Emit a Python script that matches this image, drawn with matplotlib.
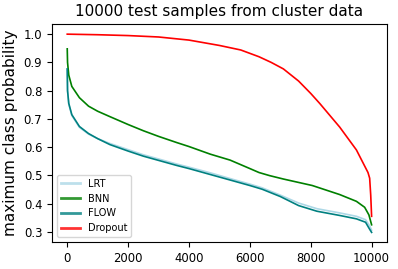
import matplotlib
matplotlib.use("Agg")
import matplotlib.pyplot as plt
import numpy as np

# sorted maximum class probability at sample indices
lrt_x = [0, 10, 50, 150, 400, 700, 1000, 1400, 2000, 2500, 3000, 3600, 4000, 4700,
         5500, 6000, 6400, 7000, 7600, 8200, 8950, 9500, 9800, 9930, 9999]
lrt_y = [0.875, 0.80, 0.752, 0.712, 0.670, 0.646, 0.630, 0.613, 0.591, 0.573, 0.558,
         0.540, 0.529, 0.509, 0.484, 0.469, 0.456, 0.430, 0.402, 0.382, 0.367, 0.355,
         0.343, 0.322, 0.306]

bnn_x = [0, 10, 50, 150, 400, 700, 1000, 1400, 2000, 2500, 3000, 3600, 4000, 4700, 5350,
         6000, 6300, 6650, 7100, 8050, 8950, 9500, 9770, 9910, 9999]
bnn_y = [0.948, 0.90, 0.855, 0.815, 0.775, 0.745, 0.727, 0.708, 0.680, 0.658, 0.638,
         0.616, 0.602, 0.575, 0.554, 0.524, 0.510, 0.499, 0.487, 0.464, 0.432, 0.408,
         0.387, 0.360, 0.325]

flow_x = [0, 10, 50, 150, 400, 700, 1000, 1400, 2000, 2500, 3000, 3600, 4000, 4700,
          5500, 6000, 6400, 7000, 7600, 8200, 8950, 9500, 9800, 9930, 9999]
flow_y = [0.877, 0.80, 0.755, 0.715, 0.673, 0.648, 0.630, 0.609, 0.586, 0.568, 0.553,
          0.535, 0.524, 0.503, 0.479, 0.464, 0.451, 0.425, 0.393, 0.373, 0.358, 0.346,
          0.334, 0.310, 0.298]

drop_x = [0, 1000, 2000, 3000, 4000, 5000, 5700, 6300, 6700, 7100, 7600, 8000, 8300,
          8950, 9500, 9880, 9935, 9970, 9999]
drop_y = [1.0, 0.998, 0.995, 0.99, 0.979, 0.96, 0.944, 0.92, 0.90, 0.877, 0.834, 0.79,
          0.754, 0.671, 0.590, 0.510, 0.490, 0.43, 0.355]

fig = plt.figure(figsize=(3.98, 2.69), dpi=100)
ax = fig.add_axes([0.1307, 0.1004, 0.8413, 0.8104])

ax.plot(lrt_x, lrt_y, color="lightblue", lw=1.2, label="LRT")
ax.plot(bnn_x, bnn_y, color="green", lw=1.2, label="BNN")
ax.plot(flow_x, flow_y, color="teal", lw=1.2, label="FLOW")
ax.plot(drop_x, drop_y, color="red", lw=1.2, label="Dropout")

ax.set_xlim(-500, 10500)
ax.set_ylim(0.264, 1.036)
ax.set_yticks([0.3, 0.4, 0.5, 0.6, 0.7, 0.8, 0.9, 1.0])
ax.set_xticks([0, 2000, 4000, 6000, 8000, 10000])
ax.tick_params(labelsize=8.4, length=3.5, width=0.8)

ax.set_title("10000 test samples from cluster data", fontsize=11)
ax.set_ylabel("maximum class probability", fontsize=11)

leg = ax.legend(loc="lower left", fontsize=7)
for line in leg.get_lines():
    line.set_linewidth(2)
    line.set_alpha(0.8)

fig.savefig("out.png", dpi=100)
